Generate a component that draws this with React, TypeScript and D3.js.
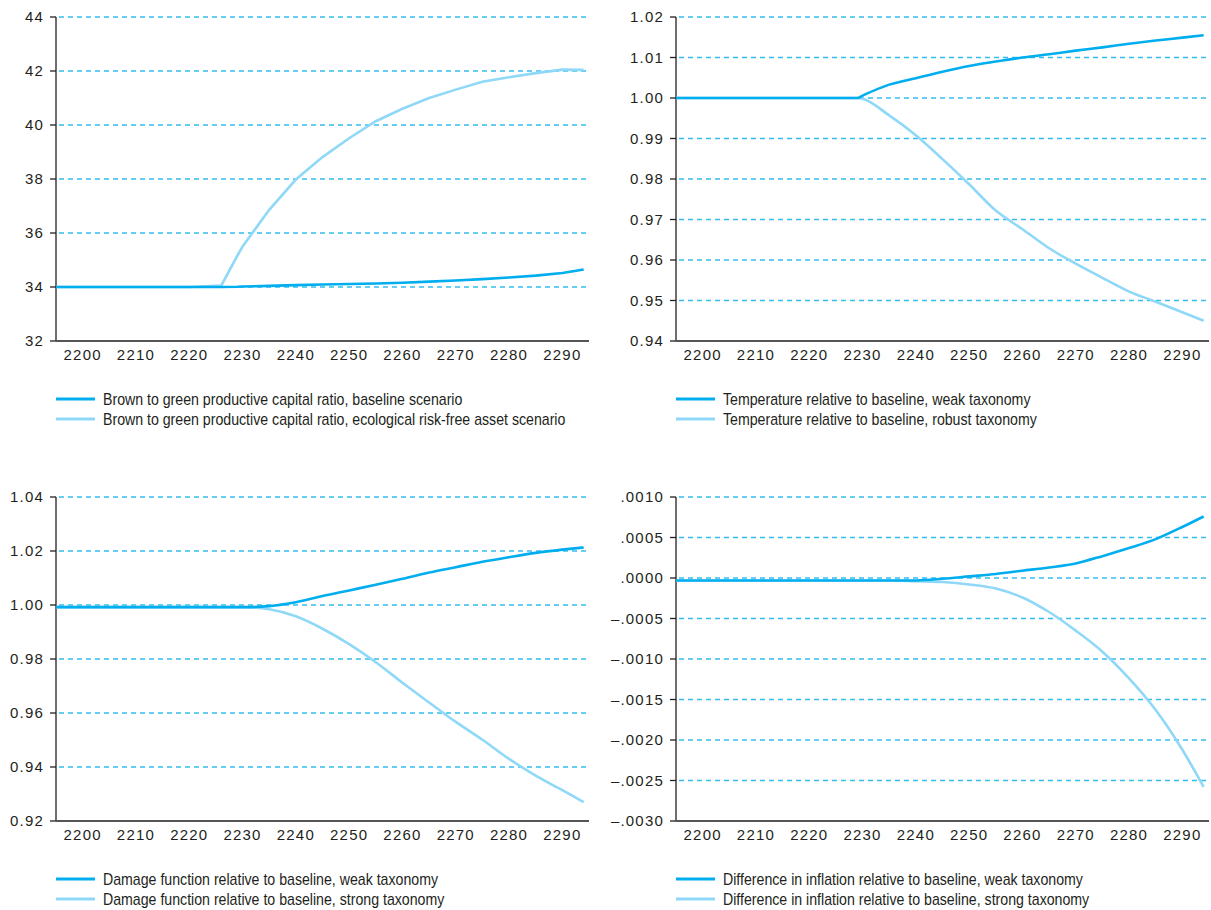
import { scaleLinear, line as d3_line, curveMonotoneX, curveLinear, format } from "d3";

const years = [
  2195, 2200, 2205, 2210, 2215, 2220, 2226, 2229, 2230, 2235, 2240, 2245,
  2250, 2255, 2260, 2265, 2270, 2275, 2280, 2285, 2290, 2294,
];
const xTicks = [2200, 2210, 2220, 2230, 2240, 2250, 2260, 2270, 2280, 2290];

// Panel A: brown to green productive capital ratio
const capitalBaseline = [
  34, 34, 34, 34, 34, 34, 34, 34.01, 34.02, 34.04, 34.07, 34.09, 34.11,
  34.13, 34.16, 34.2, 34.24, 34.29, 34.35, 34.42, 34.52, 34.65,
];
const capitalEcological = [
  34, 34, 34, 34, 34, 34, 34.05, 35.15, 35.5, 36.86, 37.98, 38.81, 39.51,
  40.14, 40.6, 41.0, 41.31, 41.6, 41.77, 41.92, 42.05, 42.04,
];
const capitalTicks = [32, 34, 36, 38, 40, 42, 44];

// Panel B: temperature relative to baseline
const tempWeak = [
  1, 1, 1, 1, 1, 1, 1, 1, 1.0006, 1.0033, 1.0049, 1.0065, 1.0079, 1.009,
  1.01, 1.0108, 1.0117, 1.0125, 1.0134, 1.0142, 1.0149, 1.0155,
];
const tempRobust = [
  1, 1, 1, 1, 1, 1, 1, 1, 0.9998, 0.9957, 0.9908, 0.9849, 0.9787, 0.9722,
  0.9676, 0.9629, 0.9591, 0.9556, 0.9522, 0.9497, 0.9471, 0.945,
];
const tempTicks = [0.94, 0.95, 0.96, 0.97, 0.98, 0.99, 1.0, 1.01, 1.02];

// Panel C: damage function relative to baseline
const damageWeak = [
  0.9992, 0.9992, 0.9992, 0.9992, 0.9992, 0.9992, 0.9992, 0.9992, 0.9992,
  0.9996, 1.001, 1.0033, 1.0054, 1.0075, 1.0097, 1.012, 1.014, 1.016,
  1.0177, 1.0193, 1.0205, 1.0213,
];
const damageStrong = [
  0.9992, 0.9992, 0.9992, 0.9992, 0.9992, 0.9992, 0.9992, 0.9992, 0.9992,
  0.9984, 0.9958, 0.9912, 0.9855, 0.9788, 0.9712, 0.9639, 0.9567, 0.9501,
  0.943, 0.9368, 0.9314, 0.927,
];
const damageTicks = [0.92, 0.94, 0.96, 0.98, 1.0, 1.02, 1.04];

// Panel D: difference in inflation relative to baseline
const inflWeak = [
  -0.00003, -0.00003, -0.00003, -0.00003, -0.00003, -0.00003, -0.00003,
  -0.00003, -0.00003, -0.00003, -0.00003, -0.00001, 0.00002, 0.00005,
  0.00009, 0.00013, 0.00018, 0.00027, 0.00037, 0.00048, 0.00063, 0.00076,
];
const inflStrong = [
  -0.00003, -0.00003, -0.00003, -0.00003, -0.00003, -0.00003, -0.00003,
  -0.00003, -0.00003, -0.00003, -0.00004, -0.00005, -0.00008, -0.00013,
  -0.00024, -0.00042, -0.00065, -0.00091, -0.00124, -0.00163, -0.00212,
  -0.00258,
];
const inflTicks = [
  -0.003, -0.0025, -0.002, -0.0015, -0.001, -0.0005, 0, 0.0005, 0.001,
];

const DARK = "#00aeef";
const LIGHT = "#8fd8f7";
const GRID = "#36bdee";
const TICK_FONT = "'Liberation Sans', Arial, Helvetica, sans-serif";
const LEGEND_FONT = "'Liberation Sans', Arial, sans-serif";

const fmt2 = format(".2f");
const fmt4 = format(".4f");
const fmtInfl = (v: number) =>
  fmt4(v).replace("−", "–").replace("-", "–").replace("0.", ".");

type PanelProps = {
  left: number;
  right: number;
  top: number;
  bottom: number;
  ticks: number[];
  tickFormat: (v: number) => string;
  dark: number[];
  light: number[];
  darkLabel: string;
  lightLabel: string;
  linear?: boolean;
};

function Panel(p: PanelProps) {
  const x = scaleLinear().domain([2195, 2295]).range([p.left, p.right]);
  const y = scaleLinear()
    .domain([p.ticks[0], p.ticks[p.ticks.length - 1]])
    .range([p.bottom, p.top]);
  const line = d3_line<number>()
    .x((_, i) => x(years[i]))
    .y((d) => y(d))
    .curve(p.linear ? curveLinear : curveMonotoneX);

  return (
    <g>
      {/* grid */}
      {p.ticks.slice(1).map((t) => (
        <line
          key={t}
          x1={p.left + 3}
          x2={p.right}
          y1={y(t)}
          y2={y(t)}
          stroke={GRID}
          strokeWidth={1.3}
          strokeDasharray="5,4"
        />
      ))}
      {/* y axis */}
      <line x1={p.left} x2={p.left} y1={p.top} y2={p.bottom} stroke="#231f20" strokeWidth={1.3} />
      {p.ticks.map((t) => (
        <g key={t}>
          <line x1={p.left - 6} x2={p.left} y1={y(t)} y2={y(t)} stroke="#231f20" strokeWidth={1.3} />
          <text
            x={p.left - 12}
            y={y(t)}
            dy="0.35em"
            textAnchor="end"
            fontFamily={TICK_FONT}
            fontSize={15}
            letterSpacing={1.2}
            fill="#231f20"
          >
            {p.tickFormat(t)}
          </text>
        </g>
      ))}
      {/* x axis */}
      <line x1={p.left} x2={p.right} y1={p.bottom} y2={p.bottom} stroke="#555" strokeWidth={2} />
      {xTicks.map((t) => (
        <text
          key={t}
          x={x(t)}
          y={p.bottom + 14}
          dy="0.35em"
          textAnchor="middle"
          fontFamily={TICK_FONT}
          fontSize={15}
          letterSpacing={1.2}
          fill="#231f20"
        >
          {t}
        </text>
      ))}
      {/* series */}
      <path d={line(p.light) ?? ""} fill="none" stroke={LIGHT} strokeWidth={2.6} />
      <path d={line(p.dark) ?? ""} fill="none" stroke={DARK} strokeWidth={2.6} />
      {/* legend */}
      {[
        { label: p.darkLabel, color: DARK },
        { label: p.lightLabel, color: LIGHT },
      ].map((l, i) => (
        <g key={i} transform={`translate(${p.left},${p.bottom + 58 + i * 20})`}>
          <line x1={0} x2={39} y1={0} y2={0} stroke={l.color} strokeWidth={3} />
          <text
            transform="translate(47,0) scale(0.885,1)"
            dy="0.35em"
            fontFamily={LEGEND_FONT}
            fontSize={16}
            fill="#231f20"
          >
            {l.label}
          </text>
        </g>
      ))}
    </g>
  );
}

export default function App() {
  return (
    <svg
      width={1211}
      height={910}
      style={{ position: "absolute", left: 0, top: 0, background: "#fff" }}
    >
      <Panel
        left={56}
        right={589}
        top={17}
        bottom={341}
        ticks={capitalTicks}
        tickFormat={(v) => String(v)}
        dark={capitalBaseline}
        light={capitalEcological}
        darkLabel="Brown to green productive capital ratio, baseline scenario"
        lightLabel="Brown to green productive capital ratio, ecological risk-free asset scenario"
        linear
      />
      <Panel
        left={676}
        right={1209}
        top={17}
        bottom={341}
        ticks={tempTicks}
        tickFormat={fmt2}
        dark={tempWeak}
        light={tempRobust}
        darkLabel="Temperature relative to baseline, weak taxonomy"
        lightLabel="Temperature relative to baseline, robust taxonomy"
      />
      <Panel
        left={56}
        right={589}
        top={497}
        bottom={821}
        ticks={damageTicks}
        tickFormat={fmt2}
        dark={damageWeak}
        light={damageStrong}
        darkLabel="Damage function relative to baseline, weak taxonomy"
        lightLabel="Damage function relative to baseline, strong taxonomy"
      />
      <Panel
        left={676}
        right={1209}
        top={497}
        bottom={821}
        ticks={inflTicks}
        tickFormat={fmtInfl}
        dark={inflWeak}
        light={inflStrong}
        darkLabel="Difference in inflation relative to baseline, weak taxonomy"
        lightLabel="Difference in inflation relative to baseline, strong taxonomy"
      />
    </svg>
  );
}
